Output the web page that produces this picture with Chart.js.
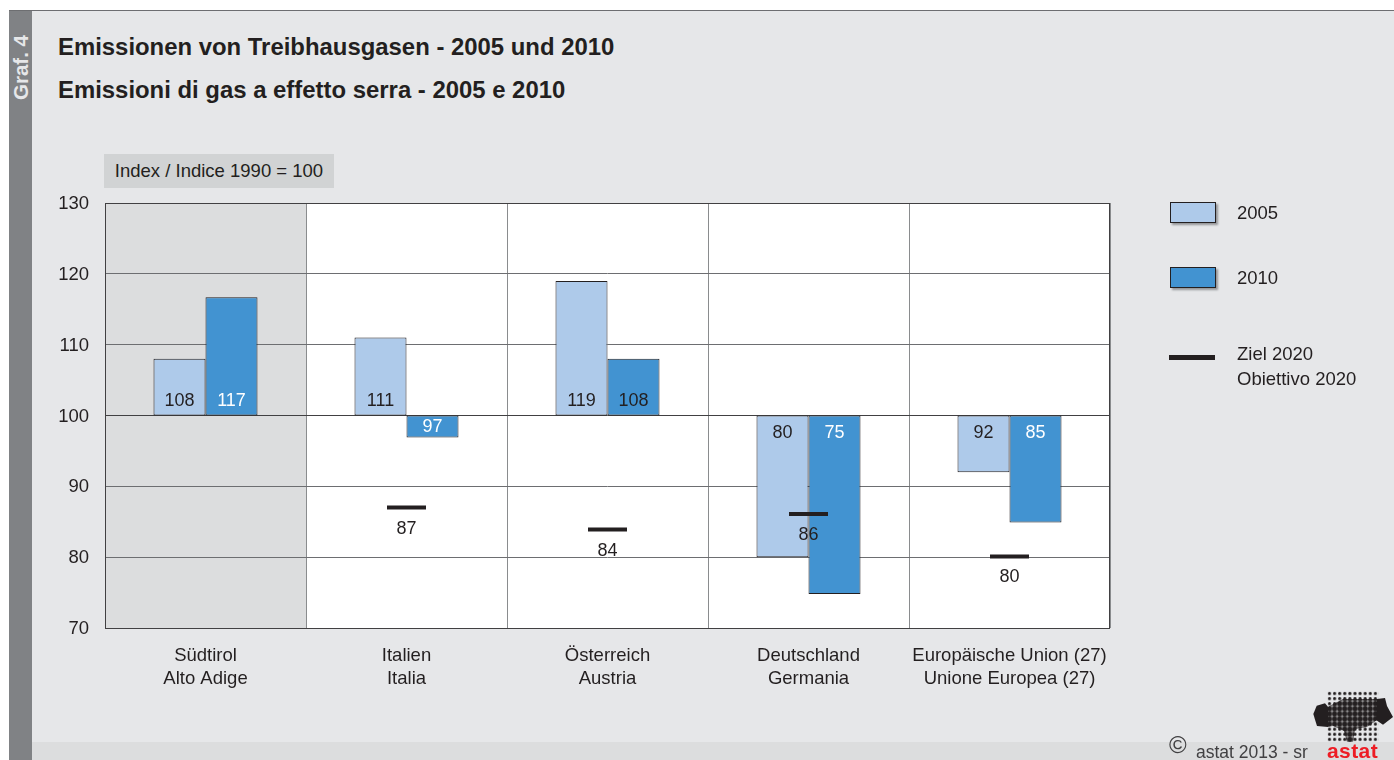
<!DOCTYPE html>
<html lang="de">
<head>
<meta charset="utf-8">
<title>Emissionen von Treibhausgasen</title>
<script src="https://cdn.jsdelivr.net/npm/chart.js@4"></script>
<style>
    html, body { margin: 0; padding: 0; background: #fff; }
    body { width: 1394px; height: 760px; position: relative; overflow: hidden; font-family: "Liberation Sans", Arial, sans-serif; color: #231f20; }
    .abs { position: absolute; white-space: nowrap; }
    #panel { left: 9px; top: 10px; width: 1385px; height: 750px; background: #e6e7e9; border-top: 1px solid #6d6e71; box-sizing: border-box; }
    #strip { left: 9px; top: 742px; width: 1385px; height: 18px; background: #dcddde; }
    #side { left: 9px; top: 11px; width: 23px; height: 749px; background: #808285; }
    #graf { left: 9px; top: 30px; width: 23px; height: 70px; color: #e6e7e9; font-weight: bold; font-size: 20.5px; writing-mode: vertical-rl; transform: rotate(180deg); line-height: 23px; text-align: left; }
    .title { left: 58px; font-weight: bold; font-size: 23.9px; }
    #unit { left: 104px; top: 154px; width: 230px; height: 34px; line-height: 34px; background: #d1d3d4; font-size: 18.5px; text-align: center; }
    canvas { position: absolute; left: 0; top: 0; }
    .swatch { left: 1170px; width: 44px; height: 19px; border: 1px solid #231f20; box-shadow: 2px 2px 2px #939598; }
    .legtext { left: 1237px; font-size: 18.5px; line-height: 25px; }
    #ziel { left: 1169px; top: 355px; width: 46px; height: 5px; background: #231f20; }
    #copy { left: 1169px; top: 731px; font-size: 24px; color: #414042; }
    #credit { left: 1196px; top: 742px; font-size: 17.5px; color: #414042; }
    #logo { left: 1310px; top: 688px; }
</style>
</head>
<body>
<div class="abs" id="panel"></div>
<div class="abs" id="strip"></div>
<div class="abs" id="side"></div>
<div class="abs" id="graf">Graf. 4</div>
<div class="abs title" style="top:33px">Emissionen von Treibhausgasen - 2005 und 2010</div>
<div class="abs title" style="top:76px">Emissioni di gas a effetto serra - 2005 e 2010</div>
<div class="abs" id="unit">Index / Indice 1990 = 100</div>

<canvas id="chartEmissionen" width="1394" height="760"></canvas>

<div class="abs swatch" style="top:202px;background:#aecaea"></div>
<div class="abs legtext" style="top:200px">2005</div>
<div class="abs swatch" style="top:267px;background:#4293d1"></div>
<div class="abs legtext" style="top:265px">2010</div>
<div class="abs" id="ziel"></div>
<div class="abs legtext" style="top:341px">Ziel 2020<br>Obiettivo 2020</div>

<div class="abs" id="copy">©</div>
<div class="abs" id="credit">astat 2013 - sr</div>
<svg class="abs" id="logo" width="84" height="72" viewBox="0 0 84 72">
    <defs>
        <pattern id="dots" x="17" y="3" width="5.1" height="5.1" patternUnits="userSpaceOnUse">
            <circle cx="2.5" cy="2.5" r="1.6" fill="#231f20"/>
        </pattern>
        <pattern id="dotsBig" x="17" y="3" width="5.1" height="5.1" patternUnits="userSpaceOnUse">
            <rect width="5.1" height="5.1" fill="#231f20" opacity="0.45"/>
            <circle cx="2.5" cy="2.5" r="2.4" fill="#231f20"/>
        </pattern>
    </defs>
    <rect x="17" y="3" width="52" height="51" fill="url(#dots)"/>
    <path d="M18 18.7 L33 11 L67 11 L67 32 L57 39 L45 41 L43 54 L37 54 L34 43 L23 38 L18 39 Z" fill="url(#dotsBig)"/>
    <path d="M3.3 26 L6.7 17.7 L15 15.3 L18 18.7 L18 39 L7 38 Z" fill="#231f20"/>
    <path d="M67 11 L75 10 L77 18 L83 29 L73 36.7 L66 32 Z" fill="#231f20"/>
</svg>
<div class="abs" style="left:1327px;top:740px;font-size:21px;font-weight:bold;color:#ed1c24;letter-spacing:0.4px;line-height:21px">astat</div>

<script>
// data
const kategorien = [
    ['Südtirol', 'Alto Adige'],
    ['Italien', 'Italia'],
    ['Österreich', 'Austria'],
    ['Deutschland', 'Germania'],
    ['Europäische Union (27)', 'Unione Europea (27)']
];
const nilai2005 = [108, 111, 119, 80, 92];
const nilai2010 = [116.7, 96.9, 108, 74.8, 84.9];
const ziel2020 = [null, 87, 83.9, 86.1, 80.1];
const basis = 100;

// batang mengambang dari garis 100
const keBatang = arr => arr.map(v => [basis, v]);

// warna label 2010: putih, kecuali Österreich
const warnaLabel2010 = ['#ffffff', '#ffffff', '#231f20', '#ffffff', '#ffffff'];

const latarSuedtirol = {
    id: 'latarSuedtirol',
    beforeDraw(chart) {
        const { ctx, chartArea: a, scales: { x } } = chart;
        const lebar = (a.right - a.left) / kategorien.length;
        ctx.save();
        ctx.fillStyle = '#ffffff';
        ctx.fillRect(a.left, a.top, a.right - a.left, a.bottom - a.top);
        ctx.fillStyle = '#dcddde';
        ctx.fillRect(a.left, a.top, x.getPixelForValue(0) + lebar / 2 - a.left, a.bottom - a.top);
        ctx.restore();
    },
    afterDatasetsDraw(chart) {
        const { ctx, chartArea: a } = chart;
        ctx.save();
        ctx.strokeStyle = '#414042';
        ctx.lineWidth = 1;
        ctx.strokeRect(Math.round(a.left) + 0.5, a.top + 0.5, Math.round(a.right - a.left) - 1, a.bottom - a.top);
        ctx.restore();
    }
};

const labelNilai = {
    id: 'labelNilai',
    afterDatasetsDraw(chart) {
        const { ctx, scales: { y } } = chart;
        const y100 = y.getPixelForValue(basis);
        ctx.save();
        ctx.font = '18px "Liberation Sans", Arial, sans-serif';
        ctx.textAlign = 'center';
        ctx.textBaseline = 'middle';

        [0, 1].forEach(ds => {
            const nilai = ds === 0 ? nilai2005 : nilai2010;
            chart.getDatasetMeta(ds).data.forEach((bar, i) => {
                const v = nilai[i];
                let py = v >= basis ? y100 - 14 : y100 + 18;
                // batang pendek: label di tengah
                if (Math.abs(y.getPixelForValue(v) - y100) < 34) py = (y100 + y.getPixelForValue(v)) / 2 + 1;
                ctx.fillStyle = ds === 0 ? '#231f20' : warnaLabel2010[i];
                ctx.fillText(Math.round(v), bar.x, py);
            });
        });

        chart.getDatasetMeta(2).data.forEach((pt, i) => {
            if (ziel2020[i] === null) return;
            ctx.fillStyle = '#231f20';
            ctx.fillText(Math.round(ziel2020[i]), pt.x, pt.y + 21);
        });
        ctx.restore();
    }
};

new Chart(document.getElementById('chartEmissionen').getContext('2d'), {
    type: 'bar',
    data: {
        labels: kategorien,
        datasets: [
            { label: '2005', data: keBatang(nilai2005), backgroundColor: '#aecaea', borderColor: '#231f20', borderWidth: 1, borderSkipped: false, order: 2 },
            { label: '2010', data: keBatang(nilai2010), backgroundColor: '#4293d1', borderColor: '#231f20', borderWidth: 1, borderSkipped: false, order: 2 },
            {
                type: 'line',
                label: 'Ziel 2020 / Obiettivo 2020',
                data: ziel2020,
                showLine: false,
                pointStyle: 'line',
                pointRadius: 19.5,
                pointBorderWidth: 4,
                pointBorderColor: '#231f20',
                order: 1
            }
        ]
    },
    options: {
        responsive: false,
        animation: false,
        layout: { padding: { top: 203, right: 284, left: 0, bottom: 0 } },
        datasets: { bar: { categoryPercentage: 104 / 201, barPercentage: 1 } },
        scales: {
            x: {
                offset: true,
                afterFit: s => { s.height = 132; },
                grid: { offset: true, color: '#8a8c8e', lineWidth: 1, drawTicks: false },
                border: { display: false },
                ticks: {
                    color: '#231f20',
                    padding: 16,
                    maxRotation: 0,
                    autoSkip: false,
                    font: { family: '"Liberation Sans", Arial, sans-serif', size: 18.5, lineHeight: 1.25 }
                }
            },
            y: {
                min: 70,
                max: 130,
                afterFit: s => { s.width = 105; },
                grid: {
                    color: c => (c.tick.value === basis ? '#414042' : '#6d6e71'),
                    lineWidth: 1,
                    drawTicks: false
                },
                border: { display: false },
                ticks: {
                    stepSize: 10,
                    color: '#231f20',
                    padding: 16,
                    labelOffset: 1,
                    font: { family: '"Liberation Sans", Arial, sans-serif', size: 18.5 }
                }
            }
        },
        plugins: { legend: { display: false }, tooltip: { enabled: false }, title: { display: false } }
    },
    plugins: [latarSuedtirol, labelNilai]
});
</script>
</body>
</html>
